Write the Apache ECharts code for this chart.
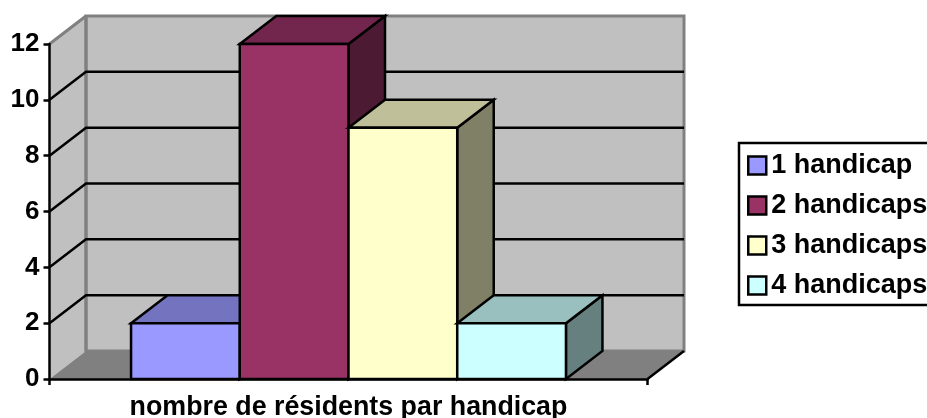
<!DOCTYPE html>
<html>
<head>
<meta charset="utf-8">
<style>
  html, body { margin: 0; padding: 0; background: #fff; overflow: hidden; }
  #chart { width: 927px; height: 418px; }
</style>
<script src="https://cdn.jsdelivr.net/npm/echarts@6/dist/echarts.min.js"></script>
</head>
<body>
<div id="chart"></div>
<script>
// data
const categories = ['nombre de résidents par handicap'];
const seriesNames = ['1 handicap', '2 handicaps', '3 handicaps', '4 handicaps'];
const seriesValues = [2, 12, 9, 2];
const seriesColors = ['#9999ff', '#993366', '#ffffcc', '#ccffff'];
const topColors = ['#7373bf', '#73264d', '#bfbf99', '#99bfbf'];
const sideColors = ['#4d4d80', '#4d1a33', '#808066', '#668080'];
const gridValues = [2, 4, 6, 8, 10];
const yMin = 0;
const yMax = 12;
const yStep = 2;

// fake 3d depth, in pixels
const DX = 36.5;
const DY = -28;
const GAP_RATIO = 0.75; // side gap relative to one bar
const LINE_W = 2.5;
const FONT = '"Liberation Sans", Arial, sans-serif';

const chart = echarts.init(document.getElementById('chart'));

function poly(points, fill, stroke, width) {
  return {
    type: 'polygon',
    shape: { points: points },
    style: { fill: fill, stroke: stroke, lineWidth: width, lineJoin: 'miter' }
  };
}

function line(points, stroke, width) {
  return {
    type: 'polyline',
    shape: { points: points },
    style: { fill: null, stroke: stroke, lineWidth: width }
  };
}

// walls and floor
function renderWalls(params, api) {
  const band = api.size([1, 0])[0];
  const cx = api.coord([0, yMin])[0];
  const x0 = cx - band / 2;
  const x1 = cx + band / 2;
  const y0 = api.coord([0, yMin])[1];
  const y1 = api.coord([0, yMax])[1];
  return {
    type: 'group',
    children: [
      poly([[x0, y0], [x0 + DX, y0 + DY], [x0 + DX, y1 + DY], [x0, y1]], '#c0c0c0', null, 0),
      poly([[x0 + DX, y0 + DY], [x1 + DX, y0 + DY], [x1 + DX, y1 + DY], [x0 + DX, y1 + DY]], '#c0c0c0', '#808080', 3),
      line([[x0, y1], [x0 + DX, y1 + DY]], '#808080', 3),
      poly([[x0, y0], [x0 + DX, y0 + DY], [x1 + DX, y0 + DY], [x1, y0]], '#808080', null, 0),
      line([[x0 + DX, y0 + DY], [x0 + DX, y1 + DY]], '#808080', 3),
      line([[x1, y0], [x1 + DX, y0 + DY]], '#000', LINE_W)
    ]
  };
}

// one gridline: runs along the side wall, then along the back wall
function renderGridLine(params, api) {
  const band = api.size([1, 0])[0];
  const p = api.coord([0, api.value(1)]);
  const x0 = p[0] - band / 2;
  const x1 = p[0] + band / 2;
  return line([[x0, p[1]], [x0 + DX, p[1] + DY], [x1 + DX, p[1] + DY]], '#000', LINE_W);
}

function renderBar(index) {
  return function (params, api) {
    const band = api.size([1, 0])[0];
    const barW = band / (seriesNames.length + 2 * GAP_RATIO);
    const top = api.coord([0, api.value(1)]);
    const base = api.coord([0, yMin]);
    const left = top[0] - band / 2 + barW * (GAP_RATIO + index);
    const right = left + barW;
    return {
      type: 'group',
      children: [
        poly([[right, base[1]], [right + DX, base[1] + DY], [right + DX, top[1] + DY], [right, top[1]]], sideColors[index], '#000', LINE_W),
        poly([[left, top[1]], [left + DX, top[1] + DY], [right + DX, top[1] + DY], [right, top[1]]], topColors[index], '#000', LINE_W),
        poly([[left, base[1]], [left, top[1]], [right, top[1]], [right, base[1]]], seriesColors[index], '#000', LINE_W)
      ]
    };
  };
}

const series = [
  {
    type: 'custom',
    name: 'murs',
    z: 1,
    silent: true,
    renderItem: renderWalls,
    encode: { x: 0, y: 1 },
    data: [[0, yMax]]
  },
  {
    type: 'custom',
    name: 'grille',
    z: 1,
    silent: true,
    renderItem: renderGridLine,
    encode: { x: 0, y: 1 },
    data: gridValues.map(v => [0, v])
  }
];

seriesNames.forEach((name, i) => {
  series.push({
    type: 'custom',
    name: name,
    z: 2,
    renderItem: renderBar(i),
    encode: { x: 0, y: 1 },
    itemStyle: { color: seriesColors[i] },
    data: [[0, seriesValues[i]]]
  });
});

const option = {
  animation: false,
  backgroundColor: '#fff',
  grid: { left: 49.5, right: 279.5, top: 44, bottom: 39, containLabel: false, outerBoundsMode: 'none' },
  legend: {
    orient: 'vertical',
    left: 739,
    top: 143,
    padding: [9, 40, 6, 8],
    borderColor: '#000',
    borderWidth: 2.5,
    itemWidth: 18,
    itemHeight: 18,
    itemGap: 13,
    icon: 'rect',
    selectedMode: false,
    itemStyle: { borderColor: '#000', borderWidth: 2.5 },
    textStyle: { fontFamily: FONT, fontWeight: 'bold', fontSize: 27, color: '#000', lineHeight: 27 },
    data: seriesNames
  },
  xAxis: {
    type: 'category',
    data: categories,
    z: 3,
    axisLine: { lineStyle: { color: '#000', width: LINE_W } },
    axisTick: { show: true, length: 6, lineStyle: { color: '#000', width: LINE_W } },
    axisLabel: { margin: 15, fontFamily: FONT, fontWeight: 'bold', fontSize: 26.8, color: '#000' }
  },
  yAxis: {
    type: 'value',
    min: yMin,
    max: yMax,
    interval: yStep,
    z: 3,
    axisLine: { show: true, lineStyle: { color: '#000', width: LINE_W } },
    axisTick: { show: true, length: 6, lineStyle: { color: '#000', width: LINE_W } },
    axisLabel: { margin: 10, padding: [3, 0, 0, 0], fontFamily: FONT, fontWeight: 'bold', fontSize: 26, color: '#000' },
    splitLine: { show: false }
  },
  series: series
};

chart.setOption(option);
</script>
</body>
</html>
